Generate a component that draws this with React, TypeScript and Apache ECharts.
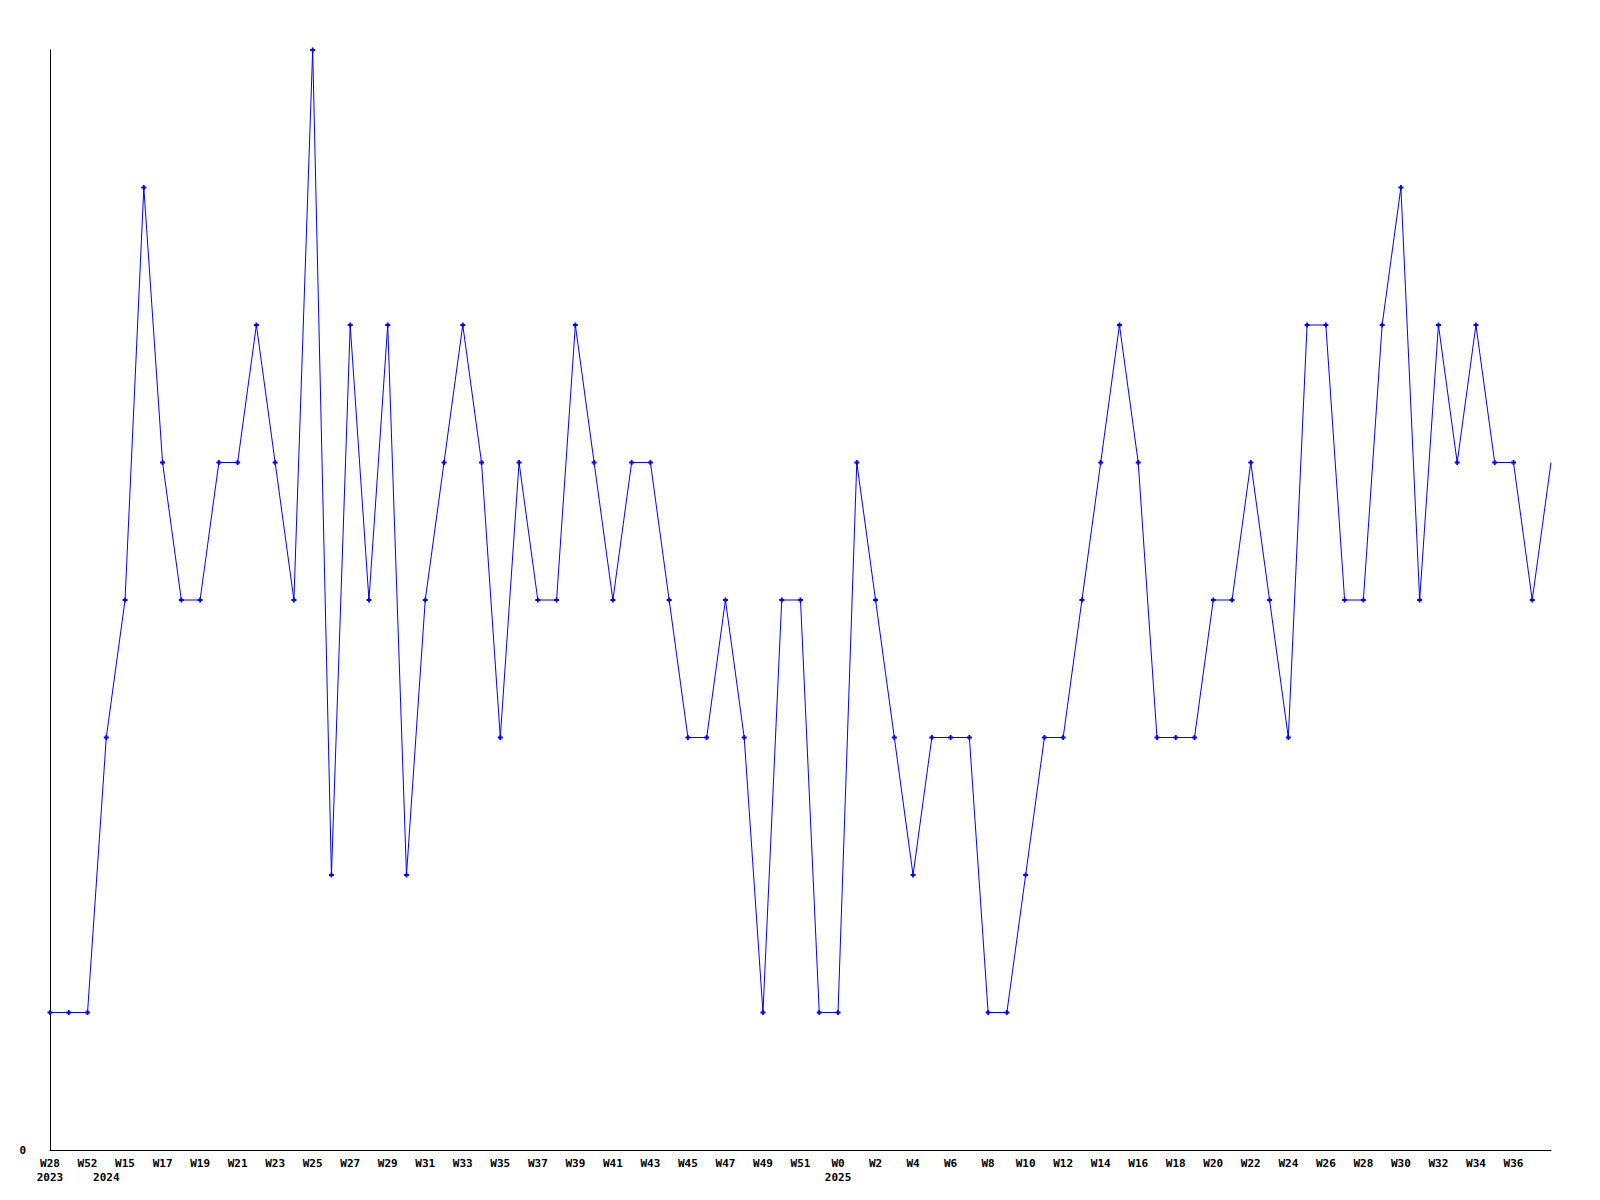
import React, { useEffect, useRef } from "react";
import * as echarts from "echarts";

const weeks: string[] = [
  "W28", "W40", "W52", "W14",
  "W15", "W16", "W17", "W18", "W19", "W20", "W21", "W22", "W23", "W24",
  "W25", "W26", "W27", "W28", "W29", "W30", "W31", "W32", "W33", "W34",
  "W35", "W36", "W37", "W38", "W39", "W40", "W41", "W42", "W43", "W44",
  "W45", "W46", "W47", "W48", "W49", "W50", "W51", "W52",
  "W0", "W1", "W2", "W3", "W4", "W5", "W6", "W7", "W8", "W9",
  "W10", "W11", "W12", "W13", "W14", "W15", "W16", "W17", "W18", "W19",
  "W20", "W21", "W22", "W23", "W24", "W25", "W26", "W27", "W28", "W29",
  "W30", "W31", "W32", "W33", "W34", "W35", "W36", "W37", "W38",
];

const yearIndex: number[] = [0, 3, 42];
const yearLabels: string[] = ["2023", "2024", "2025"];

const values: number[] = [
  1, 1, 1, 3, 4, 7, 5, 4, 4, 5,
  5, 6, 5, 4, 8, 2, 6, 4, 6, 2,
  4, 5, 6, 5, 3, 5, 4, 4, 6, 5,
  4, 5, 5, 4, 3, 3, 4, 3, 1, 4,
  4, 1, 1, 5, 4, 3, 2, 3, 3, 3,
  1, 1, 2, 3, 3, 4, 5, 6, 5, 3,
  3, 3, 4, 4, 5, 4, 3, 6, 6, 4,
  4, 6, 7, 4, 6, 5, 6, 5, 5, 4,
  5,
];

const yMin = 0;
const yMax = 8;

const FONT = "DejaVu Sans Mono";

export default function App() {
  const ref = useRef<HTMLDivElement>(null);

  useEffect(() => {
    if (!ref.current) return;
    const chart = echarts.init(ref.current, null, { renderer: "svg" });
    const labelStyle = {
      fontFamily: FONT,
      fontWeight: "bold" as const,
      fontSize: 11,
      color: "#000",
    };
    const last = weeks.length - 1;
    chart.setOption({
      animation: false,
      backgroundColor: "#fff",
      grid: { left: 50, right: 49, top: 50, bottom: 50, containLabel: false },
      xAxis: [
        {
          type: "category",
          data: weeks,
          boundaryGap: false,
          axisLine: { show: true, lineStyle: { color: "#000", width: 1 } },
          axisTick: { show: false },
          splitLine: { show: false },
          axisLabel: {
            ...labelStyle,
            margin: 8,
            interval: (idx: number) => idx % 2 === 0 && idx !== last,
          },
        },
        {
          type: "category",
          data: weeks,
          boundaryGap: false,
          position: "bottom",
          axisLine: { show: false },
          axisTick: { show: false },
          splitLine: { show: false },
          axisLabel: {
            ...labelStyle,
            margin: 22,
            interval: (idx: number) => yearIndex.indexOf(idx) >= 0,
            formatter: (_v: string, idx: number) => {
              const k = yearIndex.indexOf(idx);
              return k >= 0 ? yearLabels[k] : "";
            },
          },
        },
      ],
      yAxis: {
        type: "value",
        min: yMin,
        max: yMax,
        interval: yMax - yMin,
        axisLine: { show: true, lineStyle: { color: "#000", width: 1 } },
        axisTick: { show: false },
        splitLine: { show: false },
        axisLabel: {
          ...labelStyle,
          margin: 24,
          formatter: (v: number) => (v === 0 ? "0" : ""),
        },
      },
      series: [
        {
          type: "line",
          xAxisIndex: 0,
          data: values.map((v, i) =>
            i === values.length - 1 ? { value: v, symbol: "none" } : v
          ),
          symbol: "path://M1.6,0H3.4V1.6H5V3.4H3.4V5H1.6V3.4H0V1.6H1.6Z",
          symbolSize: 5,
          showAllSymbol: true,
          itemStyle: { color: "#0000ff" },
          lineStyle: { color: "#0000ff", width: 1 },
        },
      ],
    });
    return () => chart.dispose();
  }, []);

  return (
    <div
      ref={ref}
      style={{ position: "fixed", left: 0, top: 0, width: 1600, height: 1200 }}
    />
  );
}
